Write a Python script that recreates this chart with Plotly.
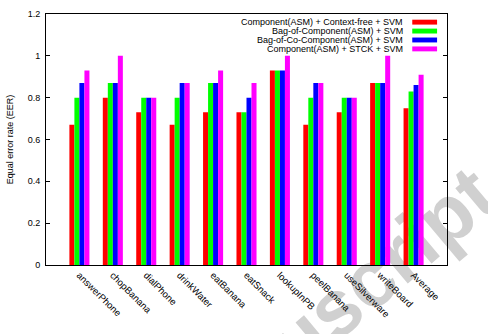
import plotly.graph_objects as go

categories = ["answerPhone", "chopBanana", "dialPhone", "drinkWater", "eatBanana",
              "eatSnack", "lookupInPB", "peelBanana", "useSilverware", "writeBoard", "Average"]
series_names = ["Component(ASM) + Context-free + SVM",
                "Bag-of-Component(ASM) + SVM",
                "Bag-of-Co-Component(ASM) + SVM",
                "Component(ASM) + STCK + SVM"]
context_free = [0.67, 0.80, 0.73, 0.67, 0.73, 0.73, 0.93, 0.67, 0.73, 0.87, 0.75]
bag_comp     = [0.80, 0.87, 0.80, 0.80, 0.87, 0.73, 0.93, 0.80, 0.80, 0.87, 0.83]
bag_co_comp  = [0.87, 0.87, 0.80, 0.87, 0.87, 0.80, 0.93, 0.87, 0.80, 0.87, 0.86]
stck         = [0.93, 1.00, 0.80, 0.87, 0.93, 0.87, 1.00, 0.87, 0.80, 1.00, 0.91]
colors = ["#ff0000", "#00ff00", "#0000ff", "#ff00ff"]
yticks = [0, 0.2, 0.4, 0.6, 0.8, 1, 1.2]

FONT = "Liberation Sans, Arial, sans-serif"
W, H = 488, 334
ML, MR, MT, MB = 43, 41, 9, 69
PW, PH = W - ML - MR, H - MT - MB

fig = go.Figure()
xs = list(range(len(categories)))
for name, vals, col in zip(series_names, [context_free, bag_comp, bag_co_comp, stck], colors):
    fig.add_trace(go.Bar(x=xs, y=vals, name=name, marker=dict(color=col, line=dict(width=0)),
                         showlegend=False))

# custom legend (text right-aligned, swatch on right, like gnuplot)
text_right = 405
sw_x0, sw_x1 = 412, 437
row0, row_step = 17.3, 9.1
annotations = []
shapes = []
for i, (name, col) in enumerate(zip(series_names, colors)):
    yc = row0 + i * row_step
    yp = 1 - (yc - MT) / PH
    annotations.append(dict(x=(text_right - ML) / PW, y=yp, xref="paper", yref="paper",
                            text=name, showarrow=False, xanchor="right", yanchor="middle",
                            font=dict(family=FONT, size=9, color="#000000")))
    shapes.append(dict(type="rect", xref="paper", yref="paper",
                       x0=(sw_x0 - ML) / PW, x1=(sw_x1 - ML) / PW,
                       y0=yp - 2.5 / PH, y1=yp + 2.5 / PH,
                       fillcolor=col, line=dict(width=0)))

# watermark behind the chart
cx, cy = 315, 315
shapes.append(dict(type="rect", xref="paper", yref="paper", layer="below",
                   x0=(cx - ML) / PW - 0.001, x1=(cx - ML) / PW + 0.001,
                   y0=1 - (cy - MT) / PH - 0.001, y1=1 - (cy - MT) / PH + 0.001,
                   line=dict(width=0), fillcolor="rgba(0,0,0,0)",
                   label=dict(text="Manuscript", textangle=-40, textposition="middle center",
                              font=dict(family=FONT, size=80, color="#d0d0d0", weight="bold"))))

fig.update_layout(
    width=W, height=H,
    margin=dict(l=ML, r=MR, t=MT, b=MB, pad=0),
    paper_bgcolor="white", plot_bgcolor="rgba(0,0,0,0)",
    barmode="group", bargap=0.4, bargroupgap=0,
    font=dict(family=FONT, size=9, color="#000000"),
    annotations=annotations, shapes=shapes,
    xaxis=dict(range=[-1, 11], tickmode="array", tickvals=xs, ticktext=categories,
               tickangle=45, ticks="", showline=True, linecolor="#000000", linewidth=1,
               mirror=True, showgrid=False, zeroline=False,
               tickfont=dict(family=FONT, size=9.5)),
    yaxis=dict(range=[0, 1.2], tickmode="array", tickvals=yticks,
               ticktext=[f"{v:g}" for v in yticks],
               ticks="inside", ticklen=4, tickcolor="#000000", tickwidth=1,
               ticklabelstandoff=3,
               showline=True, linecolor="#000000", linewidth=1, mirror="allticks",
               showgrid=False, zeroline=False,
               title=dict(text="Equal error rate (EER)", font=dict(family=FONT, size=9), standoff=12),
               tickfont=dict(family=FONT, size=9)),
)

fig.write_html("out.html")
